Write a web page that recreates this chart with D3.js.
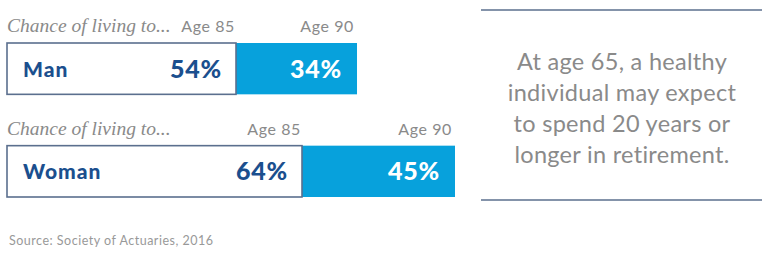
<!DOCTYPE html>
<html>
<head>
<meta charset="utf-8">
<script src="https://cdn.jsdelivr.net/npm/d3@7"></script>
<style>
  body { margin: 0; background: #fff; }
  svg { display: block; }
</style>
</head>
<body>
<script>
// data
const rows = ["Man", "Woman"];
const age85 = [54, 64];
const age90 = [34, 45];
const ageLabels = ["Age 85", "Age 90"];
const leadIn = "Chance of living to...";
const calloutLines = ["At age 65, a healthy", "individual may expect", "to spend 20 years or", "longer in retirement."];
const source = "Source: Society of Actuaries, 2016";

const W = 768, H = 253, left = 7;
const gray = "#8a8a8a", navy = "#1b4f8e", blue = "#07a1dc", edge = "#5b6f8e";
const sans = "Lato, 'Open Sans', sans-serif";

const svg = d3.select("body").append("svg").attr("width", W).attr("height", H);

const yScale = d3.scaleBand().domain(rows).range([43, 197]).paddingInner(0.5);
// segment widths, fitted to the drawing
const x85 = d3.scaleLinear().domain([19.3, 64]).range([0, 295]);
const x90 = d3.scaleLinear().domain([-7.6, 45]).range([0, 153]);

const data = rows.map((r, i) => ({ row: r, a: age85[i], b: age90[i] }));

const g = svg.selectAll("g.row").data(data).enter().append("g")
  .attr("class", "row")
  .attr("transform", d => "translate(" + left + "," + yScale(d.row) + ")");

const bh = yScale.bandwidth();

g.append("rect")
  .attr("x", d => x85(d.a))
  .attr("y", 0)
  .attr("width", d => x90(d.b))
  .attr("height", bh)
  .attr("fill", blue);

g.append("rect")
  .attr("x", 0)
  .attr("y", 0)
  .attr("width", d => x85(d.a))
  .attr("height", bh)
  .attr("fill", "#fff")
  .attr("stroke", edge)
  .attr("stroke-width", 1.6);

// headings above each bar
g.append("text")
  .attr("x", 0).attr("y", -11)
  .attr("font-family", "'Liberation Serif', 'DejaVu Serif', serif")
  .attr("font-style", "italic")
  .attr("font-size", 19.5)
  .attr("fill", gray)
  .text(leadIn);

g.append("text")
  .attr("x", d => x85(d.a) - 1).attr("y", -11)
  .attr("text-anchor", "end")
  .attr("font-family", sans).attr("font-size", 16)
  .attr("letter-spacing", 0.6)
  .attr("fill", gray)
  .text(ageLabels[0]);

g.append("text")
  .attr("x", d => x85(d.a) + x90(d.b) - 3).attr("y", -11)
  .attr("text-anchor", "end")
  .attr("font-family", sans).attr("font-size", 16)
  .attr("letter-spacing", 0.6)
  .attr("fill", gray)
  .text(ageLabels[1]);

// labels inside bars
g.append("text")
  .attr("x", 16).attr("y", bh / 2 + 8)
  .attr("font-family", sans).attr("font-weight", 900).attr("font-size", 21)
  .attr("letter-spacing", 1)
  .attr("fill", navy)
  .text(d => d.row);

g.append("text")
  .attr("x", d => x85(d.a) - 14).attr("y", bh / 2 + 9)
  .attr("text-anchor", "end")
  .attr("font-family", sans).attr("font-weight", 900).attr("font-size", 25)
  .attr("letter-spacing", 0.8)
  .attr("fill", navy)
  .text(d => d.a + "%");

g.append("text")
  .attr("x", d => x85(d.a) + x90(d.b) - 15).attr("y", bh / 2 + 9)
  .attr("text-anchor", "end")
  .attr("font-family", sans).attr("font-weight", 900).attr("font-size", 25)
  .attr("letter-spacing", 0.8)
  .attr("fill", "#fff")
  .text(d => d.b + "%");

// callout on the right
svg.selectAll("line.rule").data([10, 200]).enter().append("line")
  .attr("class", "rule")
  .attr("x1", 481).attr("x2", 762)
  .attr("y1", d => d).attr("y2", d => d)
  .attr("stroke", edge).attr("stroke-width", 1.6);

svg.selectAll("text.callout").data(calloutLines).enter().append("text")
  .attr("class", "callout")
  .attr("x", 622)
  .attr("y", (d, i) => 70 + i * 31)
  .attr("text-anchor", "middle")
  .attr("font-family", sans).attr("font-size", 23.5)
  .attr("letter-spacing", 0.3)
  .attr("fill", gray)
  .text(d => d);

svg.append("text")
  .attr("x", 9).attr("y", 245)
  .attr("font-family", sans).attr("font-size", 12.5)
  .attr("letter-spacing", 0.5)
  .attr("fill", "#999")
  .text(source);
</script>
</body>
</html>
